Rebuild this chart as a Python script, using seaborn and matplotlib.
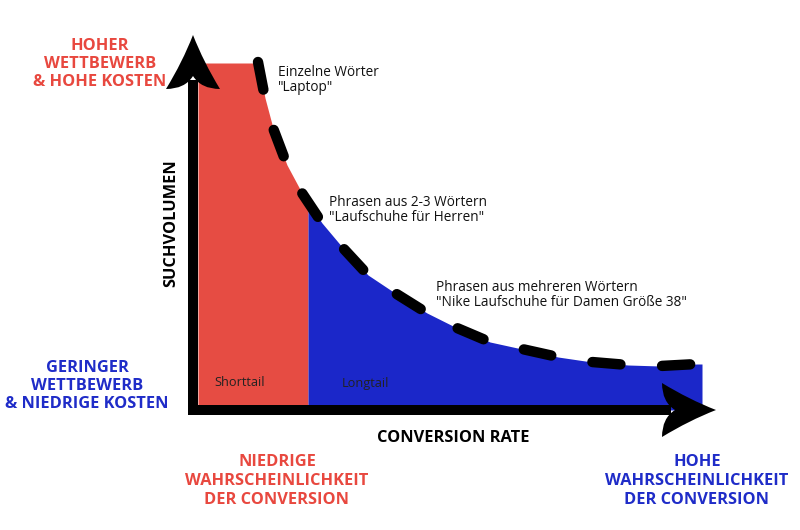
import matplotlib
matplotlib.use("Agg")
import numpy as np
import pandas as pd
import matplotlib.pyplot as plt
import seaborn as sns
from matplotlib.path import Path
from matplotlib.patches import PathPatch

# ---- data (x = conversion rate, y = search volume; arbitrary units) ----
head_x = [5, 60]
head_y = [347, 347]
curve_x = [65, 72, 80, 94, 109, 129, 150, 175, 202, 234, 264, 297, 329, 365, 399, 435, 467, 504]
curve_y = [348, 312, 282, 245, 217, 187, 162, 135, 117, 97, 82, 68, 61, 53, 48, 45, 44, 46]
split_x = 115
tail_end_x = 509

segments = ["Shorttail", "Longtail"]
segment_colors = ["#E64C43", "#1B27C9"]
annotations = [
    'Einzelne Wörter\n"Laptop"',
    'Phrasen aus 2-3 Wörtern\n"Laufschuhe für Herren"',
    'Phrasen aus mehreren Wörtern\n"Nike Laufschuhe für Damen Größe 38"',
]
y_title = "SUCHVOLUMEN"
x_title = "CONVERSION RATE"
y_high = "HOHER\nWETTBEWERB\n& HOHE KOSTEN"
y_low = "GERINGER\nWETTBEWERB\n& NIEDRIGE KOSTEN"
x_low = "NIEDRIGE\nWAHRSCHEINLICHKEIT\nDER CONVERSION"
x_high = "HOHE\nWAHRSCHEINLICHKEIT\nDER CONVERSION"

RED_TXT = "#E8483F"
BLUE_TXT = "#1F2CC8"

sns.set_theme(style="white")
plt.rcParams["font.family"] = ["Open Sans", "DejaVu Sans"]

fig = plt.figure(figsize=(8, 5.3), dpi=100)
ax = fig.add_axes([0, 0, 1, 1])

# ---- areas under the curve ----
bx = np.array(head_x + curve_x + [tail_end_x], dtype=float)
by = np.array(head_y + curve_y + [curve_y[-1]], dtype=float)
split_y = np.interp(split_x, bx, by)
m1 = bx < split_x
rx = np.concatenate([bx[m1], [split_x]])
ry = np.concatenate([by[m1], [split_y]])
m2 = bx > split_x
lx = np.concatenate([[split_x], bx[m2]])
ly = np.concatenate([[split_y], by[m2]])
ax.fill_between(rx, 0, ry, color=segment_colors[0], lw=0, zorder=1)
ax.fill_between(lx, 0, ly, color=segment_colors[1], lw=0, zorder=1)

# ---- dashed curve ----
df = pd.DataFrame({"conversion": curve_x, "volume": curve_y})
sns.lineplot(data=df, x="conversion", y="volume", sort=False, ax=ax,
             color="black", lw=7.5, linestyle=(0, (2.7, 4.0)),
             dash_capstyle="round", zorder=3)
ax.set_xlim(-193, 607)
ax.set_ylim(-120, 410)
ax.axis("off")

# ---- axes arrows ----
ax.plot([0, 0], [-5, 330], color="black", lw=7.2, solid_capstyle="butt", zorder=4)
ax.plot([-5, 478], [0, 0], color="black", lw=7.2, solid_capstyle="butt", zorder=4)


def arrow_head(tip, d, length=54, half=27, notch=13):
    tip = np.array(tip, float)
    d = np.array(d, float)
    p = np.array([-d[1], d[0]])
    base = tip - d * length
    w1 = base + p * half
    w2 = base - p * half
    nt = base + d * notch
    c1 = (tip + w1) / 2 - p * 3
    c2 = (tip + w2) / 2 + p * 3
    b1 = base + p * half * 0.3
    b2 = base - p * half * 0.3
    verts = [tip, c1, w1, b1, nt, b2, w2, c2, tip, tip]
    codes = [Path.MOVETO, Path.CURVE3, Path.CURVE3, Path.CURVE3, Path.CURVE3,
             Path.CURVE3, Path.CURVE3, Path.CURVE3, Path.CURVE3, Path.CLOSEPOLY]
    ax.add_patch(PathPatch(Path(verts, codes), fc="black", ec="none", zorder=5))


arrow_head((0, 375), (0, 1))
arrow_head((523, 0), (1, 0))

# ---- texts ----
bold = dict(fontweight="bold", fontsize=11.8, ha="center", va="center", linespacing=1.15)
ax.text(-93, 346, y_high, color=RED_TXT, **bold)
ax.text(-106, 24, y_low, color=BLUE_TXT, **bold)
ax.text(-22, 187, y_title, color="black", rotation=90, **bold)
ax.text(260, -28, x_title, color="black", **bold)
bold_b = dict(bold, linespacing=1.25)
ax.text(84, -71, x_low, color=RED_TXT, **bold_b)
ax.text(504, -71, x_high, color=BLUE_TXT, **bold_b)

norm = dict(fontsize=9.8, ha="left", va="center", color="#111111", linespacing=1.05)
ax.text(85, 330, annotations[0], **norm)
ax.text(136, 200, annotations[1], **norm)
ax.text(243, 115, annotations[2], **norm)

seg = dict(fontsize=9.2, ha="center", va="center", color="#222222")
ax.text(47, 27, segments[0], **seg)
ax.text(172, 27, segments[1], **seg)

fig.savefig("out.png", dpi=100)
